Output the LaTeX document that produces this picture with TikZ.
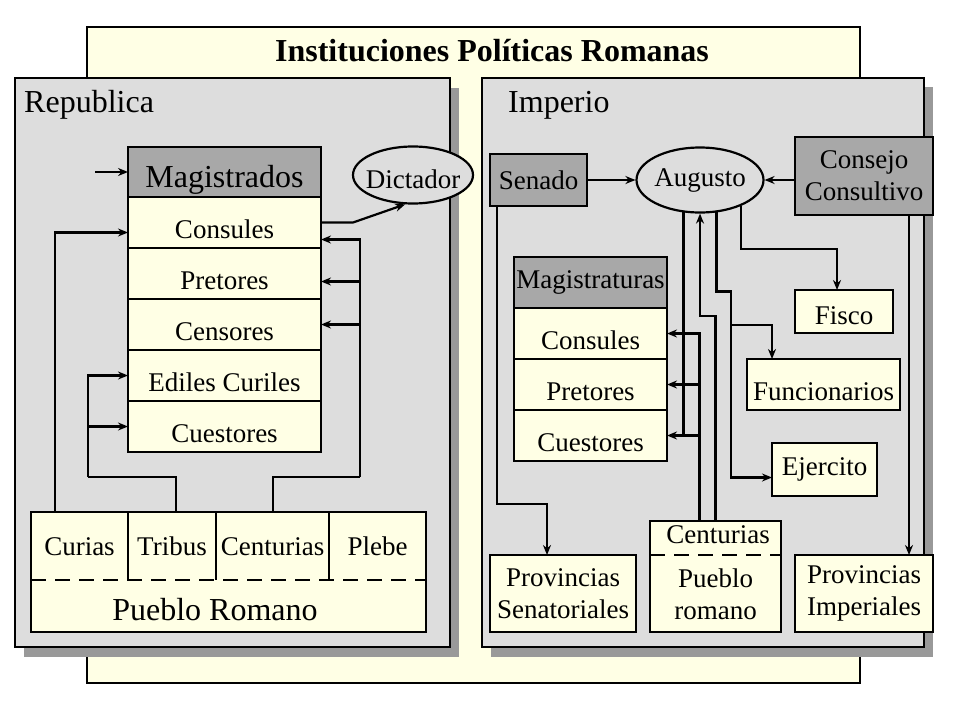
\documentclass[tikz,border=0pt]{standalone}
\usepackage{fontspec}
\setmainfont{Liberation Serif}
\usepackage{tikz}
\usetikzlibrary{arrows.meta,positioning,shapes.geometric}
\definecolor{crema}{RGB}{255,255,229}
\definecolor{grispanel}{RGB}{221,221,221}
\definecolor{griscab}{RGB}{168,168,168}
\definecolor{grissombra}{RGB}{153,153,153}

\begin{document}
\begin{tikzpicture}[x=1pt,y=-1pt,
  linea/.style={line width=2.2pt},
  flecha/.style={linea,-{Stealth[length=10pt,width=8pt]}},
  caja/.style={draw,line width=2.2pt,fill=crema,inner sep=2pt,outer sep=0pt,font=\fontsize{27}{32}\selectfont},
  cabecera/.style={caja,fill=griscab},
  fila/.style={caja,text height=32pt,text depth=0pt},
  filaL/.style={fila,minimum width=193pt,minimum height=51pt},
  filaI/.style={fila,minimum width=153pt,minimum height=51pt},
  celda/.style={texto,minimum height=68pt,text height=18pt,text depth=0pt},
  ovalo/.style={ellipse,draw,line width=2.2pt,fill=grispanel,inner sep=0pt,font=\fontsize{27}{32}\selectfont},
  texto/.style={inner sep=0pt,outer sep=0pt,font=\fontsize{27}{32}\selectfont},
  titulo/.style={inner sep=0pt,font=\fontsize{32}{38}\selectfont}]
\useasboundingbox (0,0) rectangle (960,720);

% marco general
\draw[linea,fill=crema] (87,27) rectangle (860,683);
\node[titulo,font=\fontsize{32}{38}\selectfont\bfseries,anchor=base] (tit) at (492,61) {Instituciones Políticas Romanas};

% paneles
\fill[grissombra] (24,88) rectangle (459,657);
\draw[linea,fill=grispanel] (15,78) rectangle (450,647);
\node[titulo,anchor=base west] (rep) at (24,112) {Republica};
\fill[grissombra] (491,87) rectangle (933,657);
\draw[linea,fill=grispanel] (482,78) rectangle (924,647);
\node[titulo,anchor=base west] (imp) at (508,112) {Imperio};

% Republica
\node[cabecera,minimum width=193pt,minimum height=50pt,font=\fontsize{32}{38}\selectfont,text height=30pt,text depth=0pt,anchor=north west] (magL) at (128,147) {Magistrados};
\node[filaL,below=0pt of magL] (consL) {Consules};
\node[filaL,below=0pt of consL] (pretL) {Pretores};
\node[filaL,below=0pt of pretL] (censL) {Censores};
\node[filaL,below=0pt of censL] (edilL) {Ediles Curiles};
\node[filaL,below=0pt of edilL] (cuesL) {Cuestores};
\node[ovalo,minimum width=120pt,minimum height=57pt,text height=26pt,text depth=0pt] (dict) at (413,175) {\makebox[0pt]{Dictador}};

\node[caja,minimum width=395pt,minimum height=120pt,anchor=north west] (puebloR) at (31,512) {};
\node[celda,minimum width=97pt,anchor=north west] (curR) at (31,512) {Curias};
\node[celda,minimum width=88pt,right=0pt of curR] (tribR) {Tribus};
\node[celda,minimum width=113pt,right=0pt of tribR] (centR) {Centurias};
\node[celda,minimum width=97pt,right=0pt of centR] (plebR) {Plebe};
\draw[linea] (tribR.north west) -- (tribR.south west);
\draw[linea] (centR.north west) -- (centR.south west);
\draw[linea] (plebR.north west) -- (plebR.south west);
\draw[linea,dash pattern=on 15pt off 9pt] (curR.south west) -- (plebR.south east);
\node[texto,font=\fontsize{32}{38}\selectfont,anchor=base] (puebloTxt) at (215,620) {Pueblo Romano};

\coordinate (entrada) at (95,172);
\draw[flecha] (entrada) -- (magL.west);
\draw[flecha] (consL.east) -- ++(32,0) -- (dict.255);
\draw[flecha] ([xshift=24pt]curR.north west) |- ([yshift=-10pt]consL.west);
\draw[linea] ([xshift=48pt]tribR.north west) -- ++(0,-35) -- ++(-88,0) coordinate (busL1);
\draw[flecha] (busL1) |- (edilL.west);
\draw[flecha] (busL1 |- cuesL.west) -- (cuesL.west);
\draw[linea] ([xshift=57pt]centR.north west) -- ++(0,-35) -- ++(87,0) coordinate (busL2);
\coordinate (consLin) at ([yshift=-17pt]consL.east);
\coordinate (pretLin) at ([yshift=-8pt]pretL.east);
\draw[flecha] (busL2) |- (consLin);
\draw[flecha] (busL2 |- pretLin) -- (pretLin);
\draw[flecha] (busL2 |- censL.east) -- (censL.east);

% Imperio
\node[cabecera,minimum width=97pt,minimum height=52pt] (sen) at (538.5,180) {Senado};
\node[ovalo,minimum width=127pt,minimum height=65pt] (aug) at (700,180) {\makebox[0pt]{Augusto}};
\node[cabecera,minimum width=138pt,minimum height=78pt,align=center] (cons) at (864,176) {Consejo\\Consultivo};
\node[cabecera,minimum width=153pt,minimum height=51pt,anchor=north west] (magI) at (514,257) {Magistraturas};
\node[filaI,below=0pt of magI] (consI) {Consules};
\node[filaI,below=0pt of consI] (pretI) {Pretores};
\node[filaI,below=0pt of pretI] (cuesI) {Cuestores};
\node[caja,minimum width=98pt,minimum height=43pt,text height=25pt,text depth=0pt] (fisco) at (844,311.5) {Fisco};
\node[caja,minimum width=153pt,minimum height=51pt,text height=32pt,text depth=0pt] (func) at (823.5,384.5) {Funcionarios};
\node[caja,minimum width=105pt,minimum height=53pt] (ejer) at (824.5,469.5) {Ejercito};
\node[caja,minimum width=146pt,minimum height=77pt,align=center] (provS) at (563,593.5) {Provincias\\Senatoriales};
\node[caja,minimum width=138pt,minimum height=77pt,align=center] (provI) at (864,593.5) {Provincias\\Imperiales};
\node[caja,minimum width=131pt,minimum height=111pt,anchor=north west] (puebloI) at (650,521) {};
\node[texto] (centI) at (718,535) {Centurias};
\node[texto,align=center] (romI) at (715.5,594) {Pueblo\\romano};
\draw[linea,dash pattern=on 15pt off 9pt] ([yshift=-34pt]puebloI.north west) -- ([yshift=-34pt]puebloI.north east);

\draw[flecha] (sen) -- (aug);
\draw[flecha] (cons.west |- aug.east) -- (aug.east);
\draw[flecha] ([xshift=7pt]sen.south west) -- ++(0,298) -| ([xshift=57pt]provS.north west);
\draw[flecha] ([xshift=114pt]cons.south west) -- ([xshift=114pt]provI.north west);
\draw[flecha] (aug.328) -- ++(0,43) -| ([xshift=-7pt]fisco.north);
\coordinate (busR1) at (731,325);
\draw[flecha] (aug.297) -- ++(0,79) -| (busR1) |- ([yshift=-8pt]ejer.west);
\draw[flecha] (busR1) -| ([xshift=25pt]func.north west);
\draw[flecha] (puebloI.north) -- ++(0,-205) -| (aug.south);
\coordinate (busR2) at ([xshift=-16pt]puebloI.north);
\draw[flecha] (busR2) |- (consI.east);
\draw[flecha] (busR2 |- pretI.east) -- (pretI.east);
\draw[flecha] (busR2 |- cuesI.east) -- (cuesI.east);
\draw[linea] (aug.243) -- (aug.243 |- cuesI.east);
\end{tikzpicture}
\end{document}
